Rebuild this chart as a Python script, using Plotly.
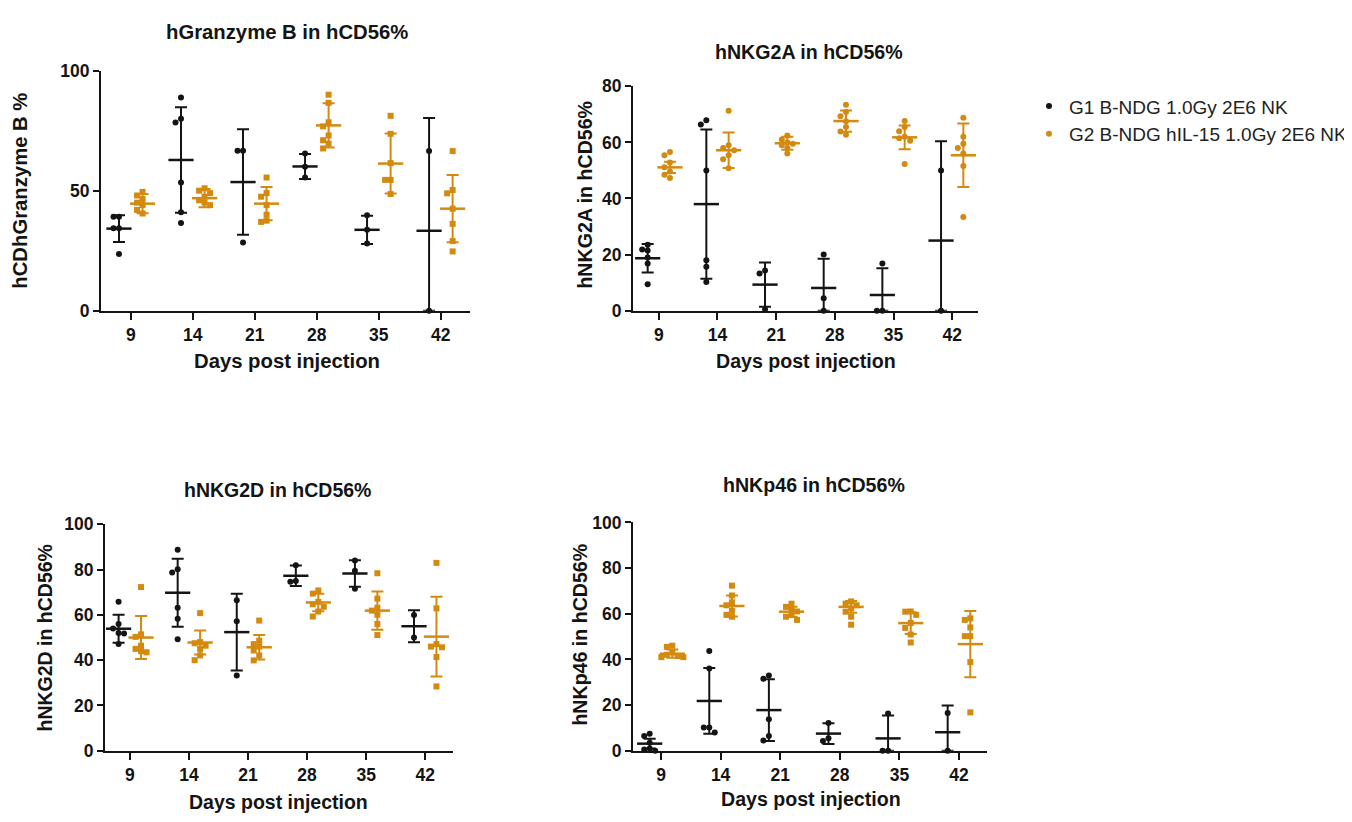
import numpy as np
import plotly.graph_objects as go

# ---------------- data ----------------
days = ["9", "14", "21", "28", "35", "42"]
group_names = ["G1 B-NDG 1.0Gy 2E6 NK", "G2 B-NDG hIL-15 1.0Gy 2E6 NK"]

# Panel 1: hGranzyme B in hCD56%
gzmb_g1_points = [[39.1, 39.1, 34.4, 34.4, 23.6], [88.8, 80.0, 78.4, 53.4, 41.0, 36.5],
                  [66.6, 66.6, 28.4], [65.5, 60.0, 55.5], [39.8, 33.7, 28.0], [66.5, 0.0]]
gzmb_g1_mean = [34.2, 62.8, 53.6, 60.1, 33.7, 33.3]
gzmb_g1_sd = [5.6, 22.0, 22.0, 5.2, 5.9, 47.0]
gzmb_g2_points = [[49.5, 48.0, 46.5, 45.0, 44.0, 42.0, 40.5], [51.0, 50.0, 49.0, 47.5, 46.0, 45.0, 44.0],
                  [55.5, 49.0, 47.5, 44.0, 40.0, 37.5, 37.0], [90.0, 86.6, 78.5, 76.8, 73.0, 71.0, 69.6, 67.6],
                  [81.2, 73.7, 61.5, 54.5, 54.5, 48.6], [66.5, 50.3, 48.9, 42.5, 36.2, 29.0, 24.7]]
gzmb_g2_mean = [44.6, 46.9, 44.6, 77.2, 61.3, 42.5]
gzmb_g2_sd = [4.0, 3.8, 6.9, 9.2, 12.5, 14.0]

# Panel 2: hNKG2A in hCD56%
nkg2a_g1_points = [[23.5, 21.8, 21.5, 19.0, 16.8, 9.4], [67.9, 66.4, 50.0, 18.0, 15.7, 10.2],
                   [14.3, 13.3, 0.5], [20.0, 4.4, 0.0], [16.8, 0.0, 0.0], [50.0, 0.0]]
nkg2a_g1_mean = [18.7, 38.0, 9.3, 8.1, 5.6, 25.0]
nkg2a_g1_sd = [5.1, 26.6, 7.9, 10.4, 9.5, 35.4]
nkg2a_g2_points = [[56.6, 55.4, 52.8, 51.1, 49.6, 48.5, 47.3], [71.3, 59.0, 58.0, 57.2, 55.4, 54.0, 50.8],
                   [62.5, 61.0, 60.0, 59.5, 59.0, 58.0, 56.0], [73.4, 70.8, 69.3, 67.5, 65.5, 63.9, 62.7],
                   [67.6, 65.5, 64.0, 62.0, 61.5, 60.6, 52.3], [68.8, 62.0, 59.5, 58.0, 56.0, 51.6, 33.4]]
nkg2a_g2_mean = [51.1, 57.2, 59.7, 67.6, 61.8, 55.4]
nkg2a_g2_sd = [2.0, 6.3, 2.3, 3.8, 4.2, 11.3]

# Panel 3: hNKG2D in hCD56%
nkg2d_g1_points = [[65.8, 56.0, 54.0, 52.0, 51.8, 47.1], [88.8, 80.2, 78.7, 63.2, 58.3, 49.3],
                   [66.5, 57.2, 33.2], [81.9, 75.0, 74.7], [84.0, 79.5, 71.6], [60.0, 50.0]]
nkg2d_g1_mean = [53.9, 69.8, 52.4, 77.3, 78.3, 55.0]
nkg2d_g1_sd = [6.2, 15.0, 17.0, 4.5, 5.9, 7.1]
nkg2d_g2_points = [[72.3, 51.4, 50.3, 46.4, 45.0, 44.0, 43.5], [60.8, 48.0, 47.5, 46.4, 45.0, 42.1, 40.0],
                   [57.5, 48.6, 47.1, 46.0, 44.3, 42.1, 39.9], [70.8, 69.4, 65.8, 64.7, 63.6, 61.5, 59.3],
                   [78.4, 67.2, 63.2, 61.9, 60.1, 56.0, 51.1], [83.0, 62.9, 47.1, 46.0, 45.7, 41.4, 28.4]]
nkg2d_g2_mean = [50.0, 47.8, 45.7, 65.5, 61.9, 50.4]
nkg2d_g2_sd = [9.5, 5.3, 5.4, 3.9, 8.4, 17.6]

# Panel 4: hNKp46 in hCD56%
nkp46_g1_points = [[7.4, 6.4, 3.5, 1.0, 0.5, 0.0], [43.7, 36.0, 10.2, 10.2, 8.0],
                   [33.0, 31.5, 13.8, 6.4, 4.5], [12.1, 5.5, 4.3], [16.3, 0.0, 0.0], [16.5, 0.0]]
nkp46_g1_mean = [3.1, 21.8, 17.8, 7.5, 5.4, 8.1]
nkp46_g1_sd = [2.1, 14.4, 13.5, 4.5, 10.0, 11.7]
nkp46_g2_points = [[46.0, 45.5, 43.0, 42.0, 41.5, 41.0, 41.0], [72.3, 68.0, 65.0, 63.7, 61.3, 59.5, 58.7],
                   [64.4, 63.0, 62.0, 61.0, 59.5, 58.7, 57.3], [65.4, 64.4, 63.7, 62.3, 60.9, 58.7, 55.2],
                   [61.0, 60.9, 59.5, 56.0, 53.8, 50.9, 47.4], [58.0, 57.3, 54.0, 50.2, 50.2, 38.8, 16.8]]
nkp46_g2_mean = [42.5, 63.4, 60.9, 63.0, 55.9, 46.7]
nkp46_g2_sd = [1.8, 4.6, 2.2, 2.6, 4.8, 14.5]

panel_titles = ["hGranzyme B in hCD56%", "hNKG2A in hCD56%", "hNKG2D in hCD56%", "hNKp46 in hCD56%"]
y_titles = ["hCDhGranzyme B %", "hNKG2A in hCD56%", "hNKG2D in hCD56%", "hNKp46 in hCD56%"]
x_title = "Days post injection"

# ---------------- styling / layout ----------------
W, H = 1352, 822
SHIFT = 8  # the page draws the figure 8 px right and down; target positions are compensated
BLACK = "#141414"
ORANGE = "#D4890F"
FONT = "Liberation Sans, Arial, sans-serif"


def sx(x):
    return (x - SHIFT) / W


def sy(y):
    return 1 - (y - SHIFT) / H


# panel geometry in target pixels: (x_left, x_right, y_top, y_bottom)
panels = [
    dict(px=(101, 470, 62, 308), ymax=100, dtick=50, xr=(-0.48, 5.47), sym2="square", tsize=20.3,
         g1=(gzmb_g1_points, gzmb_g1_mean, gzmb_g1_sd), g2=(gzmb_g2_points, gzmb_g2_mean, gzmb_g2_sd),
         title_xy=(287, 22), ytitle_xy=(20, 185), xtitle_xy=(287, 360)),
    dict(px=(633, 978, 78, 308), ymax=80, dtick=20, xr=(-0.44, 5.44), sym2="circle", tsize=19.6,
         g1=(nkg2a_g1_points, nkg2a_g1_mean, nkg2a_g1_sd), g2=(nkg2a_g2_points, nkg2a_g2_mean, nkg2a_g2_sd),
         title_xy=(809, 43), ytitle_xy=(585, 189), xtitle_xy=(806, 360)),
    dict(px=(105, 453, 527, 759), ymax=100, dtick=20, xr=(-0.42, 5.47), sym2="square", tsize=19.5,
         g1=(nkg2d_g1_points, nkg2d_g1_mean, nkg2d_g1_sd), g2=(nkg2d_g2_points, nkg2d_g2_mean, nkg2d_g2_sd),
         title_xy=(277, 492), ytitle_xy=(45, 644), xtitle_xy=(278, 812)),
    dict(px=(633, 987, 525, 759), ymax=100, dtick=20, xr=(-0.47, 5.47), sym2="square", tsize=19.6,
         g1=(nkp46_g1_points, nkp46_g1_mean, nkp46_g1_sd), g2=(nkp46_g2_points, nkp46_g2_mean, nkp46_g2_sd),
         title_xy=(814, 487), ytitle_xy=(580, 640), xtitle_xy=(811, 808)),
]

GROUP_OFFSET = 0.19
SLOT_ORDER = [0, -1, 1, -2, 2, -3, 3, -4, 4]


def swarm_slots(vals, thr):
    """Simple dot-plot spreading: points closer than thr vertically get side slots."""
    placed = []
    slots = []
    for v in vals:
        chosen = 0
        for s in SLOT_ORDER:
            if all(not (abs(v - pv) < thr and s == ps) for pv, ps in placed):
                chosen = s
                break
        placed.append((v, chosen))
        slots.append(chosen)
    return slots


fig = go.Figure()
annotations = []

for k, p in enumerate(panels):
    xl, xr_px, yt, yb = p["px"]
    ax = "" if k == 0 else str(k + 1)
    xref, yref = "x" + ax, "y" + ax
    px_per_unit_x = (xr_px - xl) / (p["xr"][1] - p["xr"][0])
    px_per_unit_y = (yb - yt) / p["ymax"]
    step = 5.5 / px_per_unit_x
    thr = 5.5 / px_per_unit_y

    for g, (points, means, sds) in enumerate([p["g1"], p["g2"]]):
        color = BLACK if g == 0 else ORANGE
        sym = "circle" if g == 0 else p["sym2"]
        off = -GROUP_OFFSET if g == 0 else GROUP_OFFSET
        xs, ys = [], []
        for i, vals in enumerate(points):
            slots = swarm_slots(vals, thr)
            for v, s in zip(vals, slots):
                xs.append(i + off + s * step)
                ys.append(v)
        fig.add_trace(go.Scatter(
            x=xs, y=ys, mode="markers", xaxis=xref, yaxis=yref,
            marker=dict(symbol=sym, size=6, color=color, line=dict(width=0)),
            name=group_names[g], showlegend=(k == 1),
            cliponaxis=False, hoverinfo="y"))
        mx = [i + off for i in range(len(means))]
        minus = [min(s, m) for s, m in zip(sds, means)]
        fig.add_trace(go.Scatter(
            x=mx, y=means, mode="markers", xaxis=xref, yaxis=yref,
            marker=dict(symbol="line-ew", size=18, color=color, line=dict(width=2.5, color=color)),
            error_y=dict(type="data", array=sds, arrayminus=minus, symmetric=False,
                         width=6, thickness=2, color=color),
            showlegend=False, cliponaxis=False, hoverinfo="y"))

    dom_x = [sx(xl), sx(xr_px)]
    dom_y = [sy(yb), sy(yt)]
    axis_common = dict(showline=True, linecolor=BLACK, linewidth=2, ticks="outside",
                       tickcolor=BLACK, tickwidth=2, showgrid=False, zeroline=False,
                       tickfont=dict(family=FONT, size=17.5, color=BLACK, weight="bold"))
    fig.layout["xaxis" + ax] = dict(domain=dom_x, range=list(p["xr"]), tickmode="array",
                                    tickvals=list(range(len(days))), ticktext=days, ticklen=7,
                                    anchor=yref, fixedrange=True, **axis_common)
    fig.layout["yaxis" + ax] = dict(domain=dom_y, range=[0, p["ymax"]], tick0=0, dtick=p["dtick"],
                                    ticklen=6, anchor=xref, fixedrange=True, **axis_common)

    tfont = dict(family=FONT, size=p["tsize"], color=BLACK, weight="bold")
    tx, ty = p["title_xy"]
    annotations.append(dict(text=panel_titles[k], x=sx(tx), y=sy(ty), xref="paper", yref="paper",
                            xanchor="center", yanchor="middle", showarrow=False, font=tfont))
    yx, yy = p["ytitle_xy"]
    annotations.append(dict(text=y_titles[k], x=sx(yx), y=sy(yy), xref="paper", yref="paper",
                            xanchor="center", yanchor="middle", textangle=-90, showarrow=False, font=tfont))
    xx, xy = p["xtitle_xy"]
    annotations.append(dict(text=x_title, x=sx(xx), y=sy(xy), xref="paper", yref="paper",
                            xanchor="center", yanchor="middle", showarrow=False, font=tfont))

fig.update_layout(
    width=W, height=H, margin=dict(l=0, r=0, t=0, b=0),
    paper_bgcolor="white", plot_bgcolor="white",
    annotations=annotations,
    legend=dict(x=1021 / W, y=1 - 71 / H, xanchor="left", yanchor="top",
                font=dict(family=FONT, size=19, color="#222222"),
                bgcolor="rgba(0,0,0,0)", itemsizing="trace"),
)

fig.write_html("out.html")
